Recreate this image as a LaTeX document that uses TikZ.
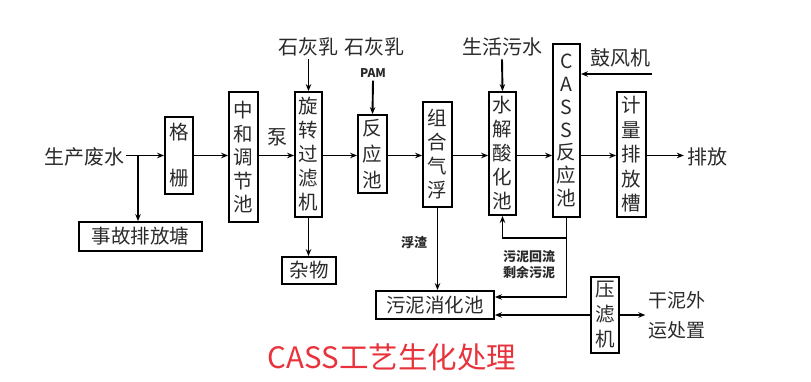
\documentclass[tikz,border=0pt]{standalone}
\usepackage{fontspec}
\newfontfamily\cjk{Noto Sans CJK SC}
\usetikzlibrary{arrows.meta}
\definecolor{tred}{HTML}{E8333C}
\definecolor{txt}{HTML}{2A2A2A}
\begin{document}
\begin{tikzpicture}[x=1pt,y=-1pt,
  box/.style={draw, line width=1.8pt, inner sep=0pt, align=center, text=txt},
  vt/.style={font=\cjk\fontsize{19.5}{#1}\selectfont},
  lbl/.style={text=txt, inner sep=0pt, align=center, font=\cjk\fontsize{20}{30}\selectfont},
  sml/.style={text=txt, inner sep=0pt, align=center, font=\cjk\bfseries\fontsize{13}{16}\selectfont},
  flow/.style={line width=1.9pt, -{Stealth[length=7pt,width=5.5pt]}},
  ln/.style={line width=1.9pt}]
\useasboundingbox (0,0) rectangle (811,382);
\coordinate (m) at (0,155.5);
% boxes
\node[box, vt=46, minimum width=28pt, minimum height=77pt] (gs) at (179,155.5) {格\\栅};
\node[box, vt=23.5, minimum width=29pt, minimum height=130pt] (zh) at (243.5,157) {中\\和\\调\\节\\池};
\node[box, vt=24, minimum width=123pt, minimum height=29pt] (sg) at (140.5,236.5) {事故排放塘};
\node[box, vt=24, minimum width=27pt, minimum height=125pt] (xz) at (308.5,154.5) {旋\\转\\过\\滤\\机};
\node[box, vt=24, minimum width=54pt, minimum height=27pt] (zw) at (309,270.5) {杂物};
\node[box, vt=26, minimum width=29pt, minimum height=78pt] (fy) at (372.5,154) {反\\应\\池};
\node[box, vt=24, minimum width=29pt, minimum height=105pt] (qf) at (437.5,154.5) {组\\合\\气\\浮};
\node[box, vt=24, minimum width=27pt, minimum height=123pt] (sj) at (502.5,153.5) {水\\解\\酸\\化\\池};
\node[box, vt=22.8, minimum width=27pt, minimum height=173pt] (cs) at (566.5,130.5) {C\\A\\S\\S\\反\\应\\池};
\node[box, vt=24.5, minimum width=29pt, minimum height=125pt] (jl) at (631.5,154.5) {计\\量\\排\\放\\槽};
\node[box, vt=25, minimum width=28pt, minimum height=76pt] (yl) at (605,315) {压\\滤\\机};
\node[box, vt=24, minimum width=118pt, minimum height=28pt] (wn) at (435,305) {污泥消化池};
% texts
\node[lbl] (scfs) at (84,157) {生产废水};
\node[lbl] (sh1) at (308.5,47) {石灰乳};
\node[lbl] (sh2) at (374,47) {石灰乳};
\node[sml, font=\cjk\bfseries\fontsize{12}{14}\selectfont] (pam) at (373,73) {PAM};
\node[lbl] (shws) at (502,47) {生活污水};
\node[lbl] (gfj) at (620,58) {鼓风机};
\node[lbl] (pf) at (707,157) {排放};
\node[lbl] (beng) at (277,137) {泵};
\node[sml] (fz) at (414,243) {浮渣};
\node[sml] (hl) at (529,265) {污泥回流\\剩余污泥};
\node[lbl, font=\cjk\fontsize{19}{30}\selectfont] (gn) at (677,315) {干泥外\\运处置};
\node[text=tred, inner sep=0pt, font=\cjk\fontsize{29.5}{30}\selectfont] (tt) at (392,357) {CASS工艺生化处理};
% connectors
\coordinate (br) at (138,155.5);
\draw[flow] ([xshift=2pt]scfs.east |- m) -- (gs.west |- m);
\draw[flow] (br) -- (br |- sg.north);
\draw[flow] (gs.east |- m) -- (zh.west |- m);
\draw[flow] (zh.east |- m) -- (xz.west |- m);
\draw[flow] (xz.east |- m) -- (fy.west |- m);
\draw[flow] (fy.east |- m) -- (qf.west |- m);
\draw[flow] (qf.east |- m) -- (sj.west |- m);
\draw[flow] (sj.east |- m) -- (cs.west |- m);
\draw[flow] (cs.east |- m) -- (jl.west |- m);
\draw[flow] (jl.east |- m) -- ([xshift=-3pt]pf.west |- m);
\draw[flow] ([yshift=-3pt]sh1.south) -- (xz.north);
\draw[flow] ([yshift=-3pt]pam.south) -- (fy.north);
\draw[flow] ([yshift=-3pt]shws.south) -- (sj.north);
\coordinate (bf) at (652,74);
\draw[flow] (bf) -- (bf -| cs.east);
\draw[flow] (xz.south) -- (xz.south |- zw.north);
\draw[flow] (qf.south) -- (qf.south |- wn.north);
\coordinate (rb) at (566.5,238);
\draw[flow] (cs.south) |- ([yshift=8pt]wn.east);
\draw[flow] (rb) -| (sj.south);
\draw[flow] (yl.west) -- (yl.west -| wn.east);
\draw[flow] (yl.east) -- ([xshift=-3pt]gn.west |- yl.east);
\end{tikzpicture}
\end{document}
